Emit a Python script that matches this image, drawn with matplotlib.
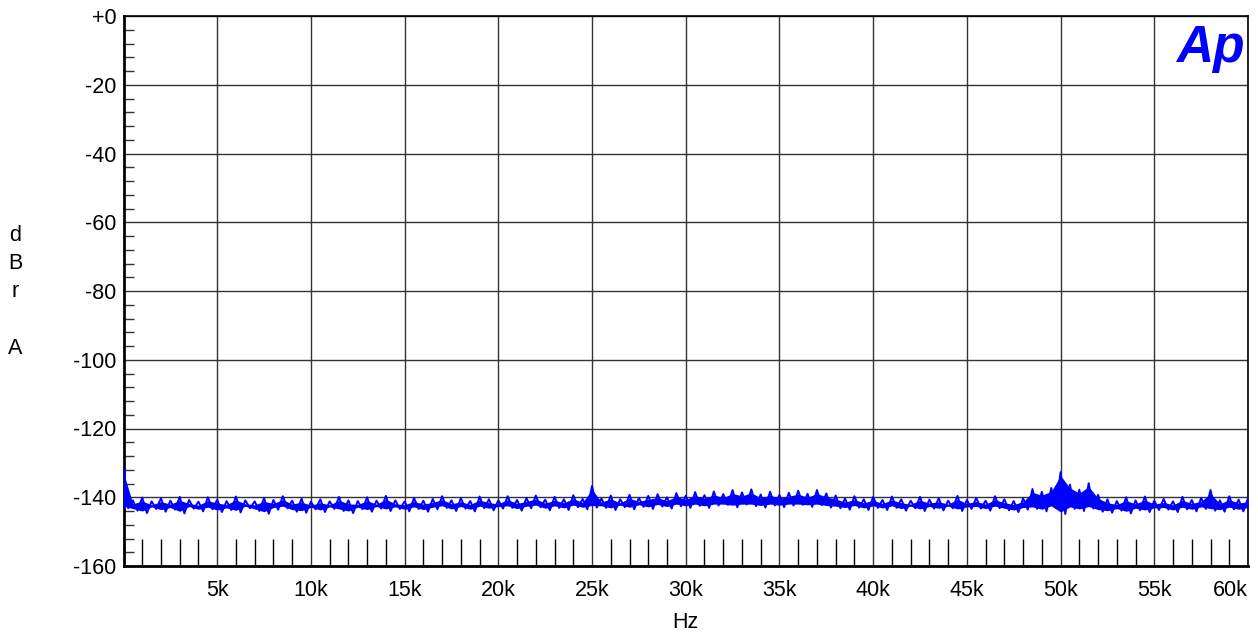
import matplotlib.pyplot as plt
from matplotlib.ticker import MultipleLocator

plt.rcParams['font.family'] = ['Liberation Sans', 'DejaVu Sans']

# frequency bins every 500 Hz, 0 .. 60k
freq = [i * 500 for i in range(121)]

# upper / lower edge of the noise trace (dBr A)
hi = [
    -131.8, -140.9, -140.1, -141.2, -140.3, -141.0, -139.9, -140.8, -141.3, -140.0, -140.7,
    -141.1, -139.8, -140.9, -141.2, -140.2, -140.8, -139.7, -141.0, -140.4, -141.3,
    -140.6, -141.2, -139.9, -140.9, -141.1, -140.0, -141.0, -139.6, -140.9, -141.2,
    -140.2, -141.0, -140.5, -139.7, -140.9, -140.3, -141.1, -139.8, -140.6, -140.9,
    -139.7, -140.8, -140.2, -139.5, -140.7, -139.9, -140.6, -139.4, -140.5, -136.7,
    -140.4, -139.5, -140.6, -139.3, -140.2, -139.6, -139.1, -140.0, -138.8, -139.6,
    -138.5, -139.4, -138.3, -139.1, -137.9, -138.6, -137.7, -139.2, -138.4, -139.3,
    -138.7, -138.1, -139.0, -137.9, -138.9, -139.5, -140.4, -139.7, -140.6, -139.9,
    -140.8, -139.8, -140.6, -141.0, -139.9, -140.7, -140.3, -141.0, -139.6, -140.8,
    -140.2, -141.0, -139.7, -140.6, -141.1, -140.3, -137.6, -138.4, -137.3, -132.7,
    -136.3, -137.8, -135.9, -139.3, -140.6, -141.1, -140.0, -140.9, -139.8, -141.0,
    -140.5, -141.2, -139.9, -140.8, -140.2, -137.9, -140.9, -139.7, -140.7, -140.3,
]
lo = [
    -143.2, -143.9, -144.6, -143.4, -144.2, -143.6, -144.7, -143.3, -144.1, -143.5, -144.3,
    -143.7, -144.4, -143.2, -144.0, -144.8, -143.6, -143.2, -144.2, -144.5, -143.5,
    -144.3, -143.4, -144.0, -144.6, -143.5, -144.2, -143.3, -144.0, -143.4, -144.1,
    -143.4, -144.2, -143.5, -143.1, -144.0, -143.3, -144.1, -143.2, -143.8, -143.3,
    -143.1, -143.9, -143.2, -142.9, -143.8, -143.1, -143.7, -142.9, -143.5, -143.0,
    -143.1, -143.7, -142.9, -143.5, -142.8, -143.4, -142.7, -143.3, -142.6, -143.1,
    -142.5, -143.1, -142.4, -142.2, -142.9, -142.1, -142.6, -143.0, -142.4, -142.9,
    -142.4, -142.2, -142.8, -142.3, -143.0, -143.2, -143.6, -143.0, -143.7, -143.1,
    -143.7, -143.1, -143.9, -143.2, -144.0, -143.3, -143.8, -143.2, -144.0, -143.4,
    -143.3, -143.9, -143.2, -143.8, -144.3, -143.6, -143.4, -144.1, -143.1, -144.9,
    -143.4, -144.0, -143.3, -144.2, -144.5, -143.9, -144.7, -143.8, -144.3, -143.7,
    -143.6, -144.3, -143.5, -144.1, -143.4, -143.9, -144.2, -143.5, -144.1, -143.6,
]

xticks = [5000 * i for i in range(1, 13)]
xlabels = ['%dk' % (t // 1000) for t in xticks]
yticks = list(range(0, -161, -20))
ylabels = ['+0'] + [str(v) for v in yticks[1:]]

fig = plt.figure(figsize=(12.58, 6.39), dpi=100)
ax = fig.add_axes([123.5 / 1258, 1 - 566 / 639, (1248 - 123.5) / 1258, 550 / 639])

# zigzag between upper and lower edge so it reads as a noisy band
zx, zy = [], []
for f, h, l in zip(freq, hi, lo):
    zx += [f, f + 250]
    zy += [h, l]
zx, zy = zx[:-1], zy[:-1]
ax.plot(zx, zy, color='#0000ff', lw=1.4, zorder=3)
core_top = [max(h, -141.3) - 1.0 for h in hi]
core_bot = [min(l, -142.6) + 0.6 for l in lo]
ax.fill_between(freq, core_top, core_bot, color='#0000ff', lw=0, zorder=3)
ax.vlines(freq[0], lo[0], hi[0], color='#0000ff', lw=2.0, zorder=3)

ax.set_xlim(0, 60000)
ax.set_ylim(-160, 0)

ax.set_xticks(xticks)
ax.set_xticklabels(xlabels)
ax.xaxis.set_minor_locator(MultipleLocator(1000))
ax.set_yticks(yticks)
ax.set_yticklabels(ylabels)
ax.yaxis.set_minor_locator(MultipleLocator(4))

ax.grid(True, which='major', color='#333333', lw=1.0)
ax.tick_params(axis='both', which='major', direction='in', length=0, labelsize=15.5)
ax.tick_params(axis='x', which='major', pad=10)
ax.tick_params(axis='y', which='major', pad=5)
ax.tick_params(axis='x', which='minor', direction='in', length=19.5, width=1.0, color='black')
ax.tick_params(axis='y', which='minor', direction='in', length=7.5, width=1.0, color='#333333')
ax.xaxis.get_majorticklabels()[-1].set_horizontalalignment('right')

for side in ('left', 'bottom'):
    ax.spines[side].set_linewidth(2.0)
for side in ('top', 'right'):
    ax.spines[side].set_linewidth(1.2)

fig.text(685 / 1258, 1 - 622 / 639, 'Hz', ha='center', va='center', fontsize=15.5)
fig.text(15 / 1258, 1 - 292 / 639, 'd\nB\nr\n\nA', ha='center', va='center',
         fontsize=15.5, linespacing=1.45)
ax.text(0.997, 0.985, 'Ap', transform=ax.transAxes, ha='right', va='top',
        fontsize=37, fontweight='heavy', style='italic', color='#0000ff')

fig.savefig('out.png', dpi=100)
